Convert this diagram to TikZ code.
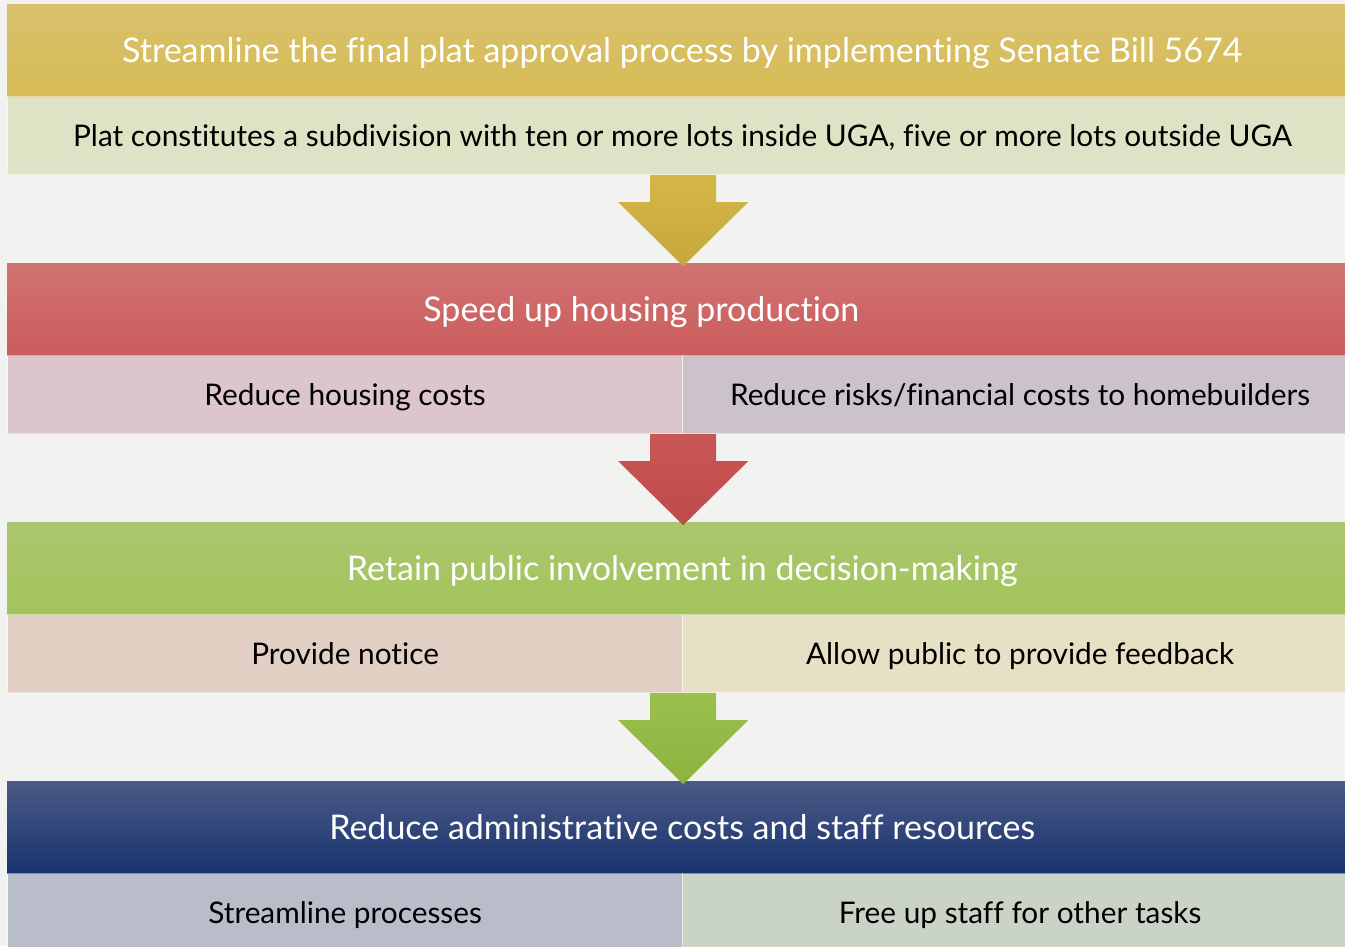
\documentclass[tikz,border=0pt]{standalone}
\usepackage{fontspec}
\setmainfont{Lato}[Ligatures=NoCommon]
\usetikzlibrary{calc}
\definecolor{bg}{HTML}{F2F2F0}
\definecolor{hAt}{HTML}{D9C16C}\definecolor{hAb}{HTML}{D6BB55}
\definecolor{hBt}{HTML}{D07472}\definecolor{hBb}{HTML}{CB5C5C}
\definecolor{hCt}{HTML}{AAC66F}\definecolor{hCb}{HTML}{A3C45A}
\definecolor{hDt}{HTML}{4C5A85}\definecolor{hDb}{HTML}{17336F}
\definecolor{sA}{HTML}{DFE3C5}
\definecolor{sBl}{HTML}{DCC6CC}\definecolor{sBr}{HTML}{CCC3CA}
\definecolor{sCl}{HTML}{E2D0C5}\definecolor{sCr}{HTML}{E6E1C4}
\definecolor{sDl}{HTML}{B9BDCA}\definecolor{sDr}{HTML}{C9D4C6}
\definecolor{aAt}{HTML}{D4B748}\definecolor{aAb}{HTML}{C7A73D}
\definecolor{aBt}{HTML}{C85755}\definecolor{aBb}{HTML}{BF4A4A}
\definecolor{aCt}{HTML}{9CC04E}\definecolor{aCb}{HTML}{8DB23E}
\begin{document}
\begin{tikzpicture}[x=1pt,y=-1pt,
  header/.style={anchor=north west, minimum width=1350pt, minimum height=92pt,
    inner sep=0pt, text=white, font=\fontsize{34}{40}\selectfont,
    text height=24pt, text depth=0pt},
  titletext/.style={anchor=base, inner sep=0pt, text=white, font=\fontsize{34}{40}\selectfont},
  subbox/.style={anchor=north west, minimum height=78pt, inner sep=0pt,
    text=black, font=\fontsize{29.8}{35}\selectfont,
    text height=21pt, text depth=0pt, draw=white, draw opacity=0.45, line width=1.2pt},
  fullsub/.style={subbox, minimum width=1350pt},
  leftsub/.style={subbox, minimum width=675pt},
  rightsub/.style={subbox, minimum width=675pt},
  downarrow/.pic={\path[pic actions] (-33,0) -- (33,0) -- (33,27) -- (65,27)
    -- (0,91) -- (-65,27) -- (-33,27) -- cycle;}
]
\useasboundingbox[fill=bg] (0,0) rectangle (1345,946);

% band 1
\node[header, top color=hAt, bottom color=hAb] (h1) at (7,4)
  {Streamline the final plat approval process by implementing Senate Bill 5674};
\node[fullsub, fill=sA] (s1) at (7,96)
  {Plat constitutes a subdivision with ten or more lots inside UGA, five or more lots outside UGA};

% band 2
\node[header, top color=hBt, bottom color=hBb] (h2) at (7,263) {};
\node[titletext] (t2) at ($(h2.center)+(-41,12)$) {Speed up housing production};
\node[leftsub, fill=sBl] (s2l) at (7,355) {Reduce housing costs};
\node[rightsub, fill=sBr] (s2r) at (682,355) {Reduce risks/financial costs to homebuilders};

% band 3
\node[header, top color=hCt, bottom color=hCb] (h3) at (7,522)
  {Retain public involvement in decision-making};
\node[leftsub, fill=sCl] (s3l) at (7,614) {Provide notice};
\node[rightsub, fill=sCr] (s3r) at (682,614) {Allow public to provide feedback};

% band 4
\node[header, top color=hDt, bottom color=hDb] (h4) at (7,781)
  {Reduce administrative costs and staff resources};
\node[leftsub, fill=sDl] (s4l) at (7,873) {Streamline processes};
\node[rightsub, fill=sDr] (s4r) at (682,873) {Free up staff for other tasks};

% arrows
\pic[top color=aAt, bottom color=aAb] at (s2l.north east |- s1.south) {downarrow};
\pic[top color=aBt, bottom color=aBb] at (s2l.south east) {downarrow};
\pic[top color=aCt, bottom color=aCb] at (s3l.south east) {downarrow};
\end{tikzpicture}
\end{document}
